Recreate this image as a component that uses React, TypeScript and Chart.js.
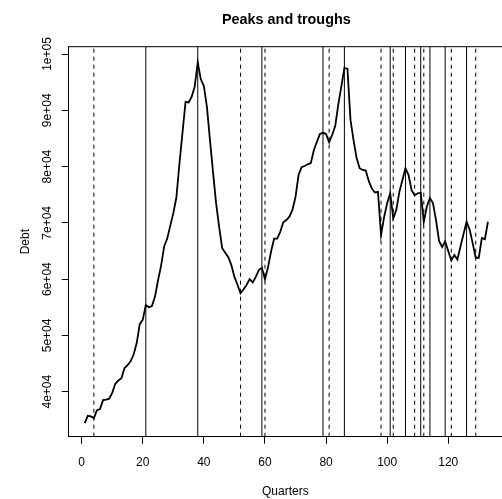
import React, { useEffect, useRef } from "react";
import { Chart, registerables } from "chart.js";

Chart.register(...registerables);

const quarters: number[] = Array.from({ length: 133 }, (_, i) => i + 1);

const debt: number[] = [
  34400, 35700, 35600, 35300, 36700, 36900, 38500, 38600, 38750, 39800,
  41400, 42000, 42400, 44150, 44700, 45400, 46600, 48600, 52000, 52800,
  55400, 55000, 55200, 56900, 59800, 62400, 65800, 67200, 69500, 71700,
  74500, 80500, 86000, 91500, 91400, 92400, 94200, 98500, 95500, 94300,
  90600, 84700, 79000, 73500, 69300, 65500, 64700, 63900, 62500, 60400,
  59000, 57500, 58200, 59000, 60000, 59400, 60400, 61600, 62000, 60000,
  62100, 64900, 67200, 67200, 68400, 70100, 70500, 71100, 72300, 74600,
  78500, 79900, 80100, 80400, 80600, 82900, 84400, 85800, 86000, 85800,
  84300, 85600, 87200, 91000, 94200, 97500, 97400, 88300, 84700, 81500,
  79700, 79400, 79300, 77400, 76100, 75400, 75500, 67800, 71000, 73500,
  75250, 70800, 72300, 75500, 77600, 79700, 78500, 75800, 74900, 75250,
  75350, 70200, 72900, 74400, 73500, 70500, 66800, 65700, 66700, 65000,
  63300, 64300, 63500, 65800, 68000, 70200, 68800, 66400, 63800, 63800,
  67300, 67100, 70200,
];

const peaks: number[] = [21, 38, 59, 79, 86, 101, 106, 111, 114, 119, 126];
const troughs: number[] = [4, 52, 60, 81, 98, 102, 109, 112, 121, 129];

const xTicks: number[] = [0, 20, 40, 60, 80, 100, 120];
const yTicks: number[] = [40000, 50000, 60000, 70000, 80000, 90000, 100000];
const yTickLabels: string[] = ["4e+04", "5e+04", "6e+04", "7e+04", "8e+04", "9e+04", "1e+05"];

const titleText = "Peaks and troughs";
const xTitle = "Quarters";
const yTitle = "Debt";

const FONT = "'Liberation Sans', Arial, Helvetica, sans-serif";

const decorPlugin = {
  id: "decor",
  beforeDatasetsDraw(chart: any) {
    const { ctx, chartArea, scales } = chart;
    const x = scales.x;
    ctx.save();
    ctx.beginPath();
    ctx.rect(chartArea.left, chartArea.top, chartArea.right - chartArea.left, chartArea.bottom - chartArea.top);
    ctx.clip();
    ctx.strokeStyle = "#000";
    ctx.lineWidth = 1;
    peaks.forEach((p) => {
      const px = x.getPixelForValue(p);
      ctx.setLineDash([]);
      ctx.beginPath();
      ctx.moveTo(px, chartArea.bottom);
      ctx.lineTo(px, chartArea.top);
      ctx.stroke();
    });
    troughs.forEach((t) => {
      const px = x.getPixelForValue(t);
      ctx.setLineDash([4, 4]);
      ctx.beginPath();
      ctx.moveTo(px, chartArea.bottom);
      ctx.lineTo(px, chartArea.top);
      ctx.stroke();
    });
    ctx.restore();
  },
  afterDraw(chart: any) {
    const { ctx, chartArea } = chart;
    ctx.save();
    ctx.strokeStyle = "#000";
    ctx.lineWidth = 1;
    ctx.setLineDash([]);
    ctx.beginPath();
    ctx.moveTo(chartArea.left, chartArea.top);
    ctx.lineTo(chartArea.right, chartArea.top);
    ctx.stroke();
    ctx.fillStyle = "#000";
    ctx.font = `bold 14.4px ${FONT}`;
    ctx.textAlign = "center";
    ctx.textBaseline = "middle";
    ctx.fillText(titleText, (chartArea.left + chartArea.right) / 2 + 1, 20);
    ctx.restore();
  },
};

export default function App() {
  const canvasRef = useRef<HTMLCanvasElement | null>(null);

  useEffect(() => {
    document.body.style.margin = "0";
    document.body.style.overflow = "hidden";
    const canvas = canvasRef.current;
    if (!canvas) return;
    Chart.defaults.font.family = FONT;
    Chart.defaults.font.size = 12;
    Chart.defaults.color = "#000";

    const chart = new Chart(canvas, {
      type: "line",
      data: {
        datasets: [
          {
            data: quarters.map((q, i) => ({ x: q, y: debt[i] })),
            borderColor: "#000",
            borderWidth: 1.8,
            pointRadius: 0,
            tension: 0,
            fill: false,
          },
        ],
      },
      options: {
        responsive: false,
        animation: false,
        events: [],
        layout: { padding: { top: 46.7, left: 0, right: 0, bottom: 0 } },
        plugins: {
          legend: { display: false },
          tooltip: { enabled: false },
          title: { display: false },
        },
        scales: {
          x: {
            type: "linear",
            position: "bottom",
            min: -4.25,
            max: 137.6,
            afterBuildTicks: (scale: any) => {
              scale.ticks = xTicks.map((v) => ({ value: v }));
            },
            afterFit: (scale: any) => {
              scale.height = 62.3;
            },
            grid: {
              display: true,
              drawOnChartArea: false,
              drawTicks: true,
              tickLength: 7,
              tickColor: "#000",
              lineWidth: 1,
            },
            border: { display: true, color: "#000", width: 1 },
            ticks: {
              autoSkip: false,
              maxRotation: 0,
              minRotation: 0,
              padding: 12,
              color: "#000",
              font: { size: 12, family: FONT },
              callback: (v: any) => String(v),
            },
            title: {
              display: true,
              text: xTitle,
              color: "#000",
              font: { size: 12, family: FONT },
              padding: { top: 0, bottom: 0 },
            },
          },
          y: {
            type: "linear",
            position: "left",
            min: 32000,
            max: 101300,
            afterBuildTicks: (scale: any) => {
              scale.ticks = yTicks.map((v) => ({ value: v }));
            },
            afterFit: (scale: any) => {
              scale.width = 68.7;
            },
            grid: {
              display: true,
              drawOnChartArea: false,
              drawTicks: true,
              tickLength: 7,
              tickColor: "#000",
              lineWidth: 1,
            },
            border: { display: true, color: "#000", width: 1 },
            ticks: {
              autoSkip: false,
              minRotation: 90,
              maxRotation: 90,
              crossAlign: "center",
              padding: -3,
              color: "#000",
              font: { size: 12, family: FONT },
              callback: (v: any) => {
                const idx = yTicks.indexOf(Number(v));
                return idx >= 0 ? yTickLabels[idx] : "";
              },
            },
            title: {
              display: true,
              text: yTitle,
              color: "#000",
              font: { size: 12, family: FONT },
              padding: { top: 18, bottom: 0 },
            },
          },
        },
      },
      plugins: [decorPlugin],
    });

    return () => {
      chart.destroy();
    };
  }, []);

  return (
    <div style={{ width: 502, height: 499, position: "relative" }}>
      <canvas ref={canvasRef} width={502} height={499} style={{ display: "block" }} />
    </div>
  );
}
